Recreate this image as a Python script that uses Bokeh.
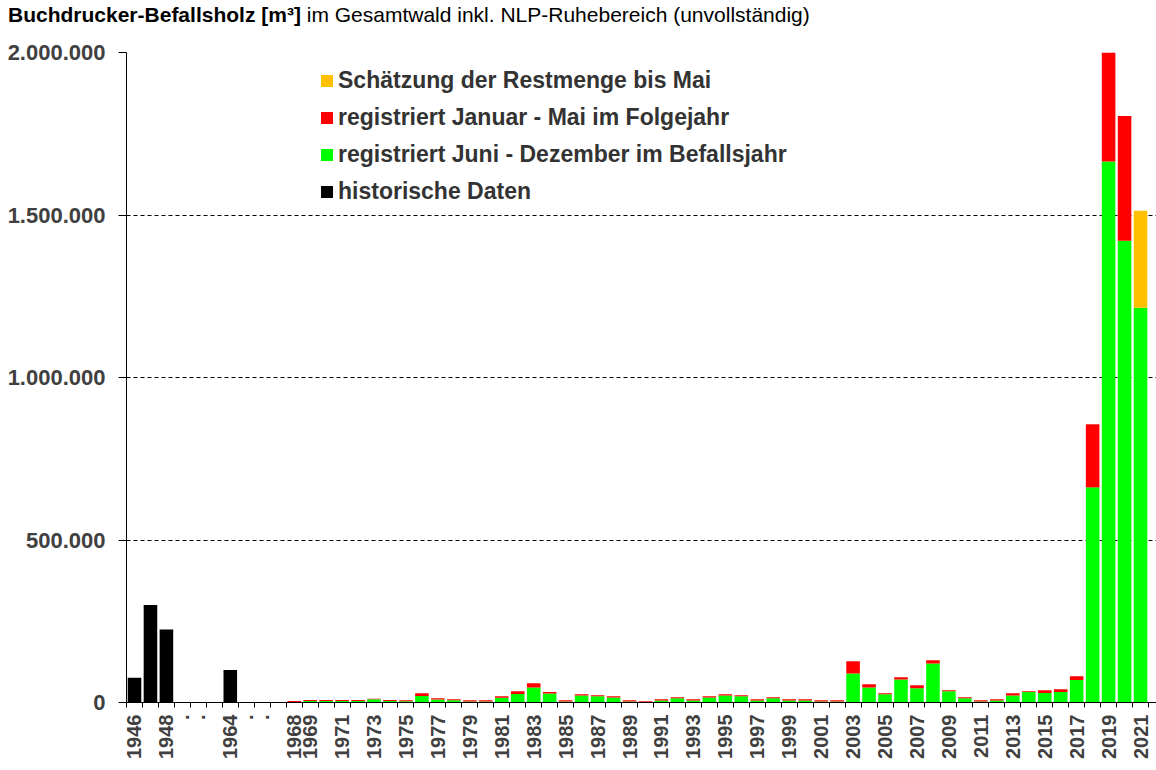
from bokeh.plotting import figure
from bokeh.layouts import column
from bokeh.models import (Range1d, FixedTicker, Legend, LegendItem,
                          ColumnDataSource, Div)
from bokeh.embed import file_html
from bokeh.resources import INLINE
import math

# ---------------- data ----------------
categories = (["1946", "1947", "1948", ".", ".", "", "1964", ".", ".", ""]
              + [str(y) for y in range(1968, 2022)])
tick_labels = (["1946", "", "1948", ".", ".", "", "1964", ".", ".", "",
                "1968", "1969"]
               + [str(y) if y % 2 == 1 else "" for y in range(1970, 2022)])

historic_years = ["1946", "1947", "1948", "1964"]
historic = [76000, 300000, 225000, 100000]

recent_years = [str(y) for y in range(1968, 2022)]
juni_dez = [1000, 5000, 5000, 5000, 5000, 10000, 5000, 4000, 20000, 9000,
            7000, 3000, 3000, 15000, 26000, 46000, 28000, 3000, 21500, 19500,
            15500, 3000, 1000, 6000, 13000, 6000, 15500, 21500, 19500, 6000,
            13000, 6000, 6000, 3000, 3000, 89000, 46000, 25500, 71000, 44000,
            120000, 35000, 13000, 3000, 6000, 21500, 32000, 29000, 32000, 69000,
            662000, 1665000, 1421000, 1215000]
jan_mai = [4000, 3000, 3000, 3000, 3000, 1500, 3000, 3000, 8500, 4000,
           3000, 4000, 4000, 4500, 9000, 13500, 4000, 4000, 4000, 3000,
           4000, 4000, 3000, 4000, 3000, 4000, 4000, 4000, 3000, 4000,
           3000, 4000, 4000, 4000, 4000, 38000, 10000, 3000, 7000, 9000,
           10000, 3000, 3000, 4000, 4000, 7000, 3000, 9000, 9000, 12000,
           194000, 335000, 384000, 0]
schaetzung = [0] * 53 + [298000]

y_ticks = [0, 500000, 1000000, 1500000, 2000000]

title_bold = "Buchdrucker-Befallsholz [m³]"
title_rest = "im Gesamtwald inkl. NLP-Ruhebereich (unvollständig)"

series_names = ["Schätzung der Restmenge bis Mai",
                "registriert Januar - Mai im Folgejahr",
                "registriert Juni - Dezember im Befallsjahr",
                "historische Daten"]
colors = {"orange": "#FFC000", "red": "#FF0000", "green": "#00FF00", "black": "#000000"}

W = 1156

# ---------------- title ----------------
title_div = Div(
    text=('<div style="position:relative; left:8px; top:4px; white-space:nowrap; '
          'font-family:\'Liberation Sans\', Arial, sans-serif; font-size:21px; '
          'line-height:21px; color:black;">'
          f'<span style="font-weight:bold;">{title_bold}</span> {title_rest}</div>'),
    width=W, height=40, margin=0)

# ---------------- main chart ----------------
n_slots = len(categories)
p = figure(width=W, height=726, output_backend="svg", toolbar_location=None,
           x_range=Range1d(-0.5, n_slots), y_range=Range1d(0, 2000000),
           min_border_left=126, min_border_right=0, min_border_top=12,
           min_border_bottom=64)
p.outline_line_color = None
p.background_fill_color = "white"
p.border_fill_color = "white"

src = ColumnDataSource(dict(
    x=[categories.index(y) for y in recent_years],
    green=juni_dez, red=jan_mai, orange=schaetzung))
stack = p.vbar_stack(["green", "red", "orange"], x="x", width=0.85, source=src,
                     color=[colors["green"], colors["red"], colors["orange"]],
                     line_color=None)

hist_src = ColumnDataSource(dict(x=[categories.index(y) for y in historic_years],
                                 top=historic))
hist = p.vbar(x="x", top="top", width=0.85, source=hist_src,
              fill_color=colors["black"], line_color=None)

# x axis
xa = p.xaxis[0]
xa.ticker = FixedTicker(ticks=list(range(n_slots)),
                        minor_ticks=[i - 0.5 for i in range(n_slots + 1)])
xa.major_label_overrides = {i: tick_labels[i] for i in range(n_slots)}
xa.major_tick_line_color = None
xa.major_tick_out = 5
xa.major_tick_in = 0
xa.minor_tick_line_color = "black"
xa.minor_tick_out = 5
xa.minor_tick_in = 0
xa.axis_line_color = "black"
xa.major_label_orientation = math.pi / 2
xa.major_label_standoff = 7
xa.major_label_text_font = "Liberation Sans"
xa.major_label_text_font_style = "bold"
xa.major_label_text_font_size = "20px"
xa.major_label_text_color = "#404040"

# y axis
ya = p.yaxis[0]
ya.ticker = FixedTicker(ticks=y_ticks)
ya.major_label_overrides = {v: f"{v:,}".replace(",", ".") for v in y_ticks}
ya.minor_tick_line_color = None
ya.major_tick_line_color = "black"
ya.major_tick_out = 8
ya.major_tick_in = 0
ya.axis_line_color = "black"
ya.major_label_standoff = 13
ya.major_label_text_font = "Liberation Sans"
ya.major_label_text_font_style = "bold"
ya.major_label_text_font_size = "22px"
ya.major_label_text_color = "#404040"

p.xgrid.visible = False
p.ygrid.ticker = FixedTicker(ticks=y_ticks)
p.ygrid.grid_line_color = "black"
p.ygrid.grid_line_dash = "4 3"
p.ygrid.grid_line_width = 1

# legend
legend = Legend(items=[
    LegendItem(label=series_names[0], renderers=[stack[2]]),
    LegendItem(label=series_names[1], renderers=[stack[1]]),
    LegendItem(label=series_names[2], renderers=[stack[0]]),
    LegendItem(label=series_names[3], renderers=[hist]),
], location=(193, 497))
legend.border_line_color = None
legend.background_fill_alpha = 0
legend.padding = 0
legend.margin = 0
legend.spacing = 10
legend.glyph_width = 15
legend.glyph_height = 15
legend.label_standoff = 4
legend.label_text_font = "Liberation Sans"
legend.label_text_font_style = "bold"
legend.label_text_font_size = "23px"
legend.label_text_color = "#333333"
p.add_layout(legend, "center")

layout = column(title_div, p, spacing=0)
open("out.html", "w").write(file_html(layout, INLINE))
